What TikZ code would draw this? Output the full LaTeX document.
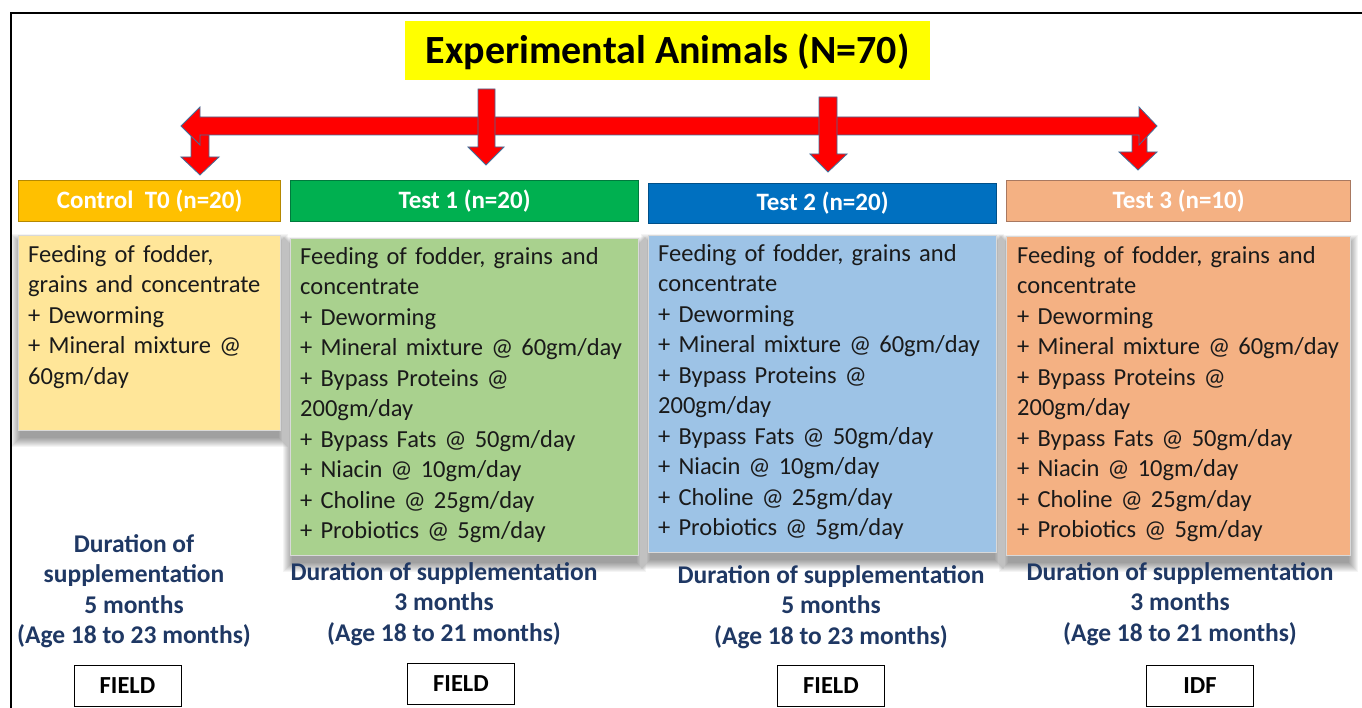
\documentclass[tikz,border=0pt]{standalone}
\usepackage{fontspec}
\setmainfont{Carlito}
\pgfdeclarelayer{bgzero}
\pgfdeclarelayer{background}
\pgfsetlayers{bgzero,background,main}
\definecolor{titley}{HTML}{FFFF00}
\definecolor{arrred}{HTML}{FF0000}
\definecolor{arrline}{HTML}{41719C}
\definecolor{hdrA}{HTML}{FFC000}
\definecolor{hdrAb}{HTML}{B58800}
\definecolor{hdrB}{HTML}{00B050}
\definecolor{hdrBb}{HTML}{007A3D}
\definecolor{hdrC}{HTML}{0070C0}
\definecolor{hdrCb}{HTML}{004F88}
\definecolor{hdrD}{HTML}{F4B183}
\definecolor{hdrDb}{HTML}{A87860}
\definecolor{bodA}{HTML}{FFE699}
\definecolor{bodB}{HTML}{A9D18E}
\definecolor{bodC}{HTML}{9DC3E6}
\definecolor{bodD}{HTML}{F4B183}
\definecolor{navy}{HTML}{1F3864}
\definecolor{txt}{HTML}{1A1A1A}
\begin{document}
\begin{tikzpicture}[x=1pt,y=-1pt,
  hdr/.style={anchor=north west, inner sep=0pt, line width=1.2pt},
  hdrtext/.style={text=white, font=\fontsize{25}{30}\selectfont\bfseries},
  bod/.style={anchor=north west, inner sep=0pt, draw=white!85!black, line width=0.6pt},
  bodtext/.style={anchor=north west, inner sep=0pt, align=left, text=txt, font=\fontsize{24.5}{30.5}\selectfont, text width=345pt},
  dur/.style={align=center, text=navy, font=\fontsize{25.5}{30.5}\selectfont\bfseries},
  place/.style={draw=black, line width=0.9pt, minimum width=107pt, minimum height=41pt, inner sep=0pt, font=\fontsize{24.5}{28}\selectfont\bfseries},
  blockarrow/.style={fill=arrred, draw=arrline, line width=0.8pt, line join=miter},
  shadowlayer/.style={fill=black, fill opacity=0.045, draw=none}
]
\begin{pgfonlayer}{bgzero}
\fill[white] (0,0) rectangle (1362,708);
\end{pgfonlayer}
\useasboundingbox (0,0) rectangle (1362,708);
% frame
\draw[line width=1.2pt] (11,708) -- (11,13) -- (1362,13);

% title
\node[fill=titley, minimum width=525pt, minimum height=59pt, inner sep=0pt, anchor=north west] (title) at (405,21) {};
\node[font=\fontsize{40}{48}\selectfont\bfseries] (titletext) at ([yshift=-1pt]title.center) {Experimental Animals (N=70)};

% down arrows at ends (below horizontal arrow)
\draw[blockarrow] (191,130) -- (191,157) -- (181,157) -- (200,175) -- (219,157) -- (209,157) -- (209,130) -- cycle;
\draw[blockarrow] (1132,130) -- (1132,152) -- (1119,152) -- (1138,170) -- (1157,152) -- (1147,152) -- (1147,130) -- cycle;
% horizontal double arrow
\draw[blockarrow] (181,126) -- (200,107) -- (200,117) -- (1139,117) -- (1139,107) -- (1157,126) -- (1139,145) -- (1139,135) -- (200,135) -- (200,145) -- cycle;
% vertical arrows from title
\draw[blockarrow] (478,89) -- (478,147) -- (468,147) -- (486,165) -- (504,147) -- (495,147) -- (495,89) -- cycle;
\draw[blockarrow] (819,97) -- (819,154) -- (810,154) -- (828,172) -- (847,154) -- (837,154) -- (837,97) -- cycle;

% headers
\node[hdr, fill=hdrA, draw=hdrAb, minimum width=262pt, minimum height=41pt] (h0) at (18,180) {};
\node[hdrtext] at (h0.center) {Control\ \ T0 (n=20)};
\node[hdr, fill=hdrB, draw=hdrBb, minimum width=348pt, minimum height=41pt] (h1) at (290,180) {};
\node[hdrtext] at (h1.center) {Test 1 (n=20)};
\node[hdr, fill=hdrC, draw=hdrCb, minimum width=348pt, minimum height=40pt] (h2) at (648,183) {};
\node[hdrtext] at (h2.center) {Test 2 (n=20)};
\node[hdr, fill=hdrD, draw=hdrDb, minimum width=344pt, minimum height=41pt] (h3) at (1006,180) {};
\node[hdrtext] at (h3.center) {Test 3 (n=10)};

% bodies
\node[bod, fill=bodA, minimum width=262pt, minimum height=195pt] (b0) at (18,235) {};
\node[bodtext] (t0) at (28,245)
 {Feeding of fodder,\\grains and concentrate\\+ Deworming\\+ Mineral mixture @\\60gm/day};

\node[bod, fill=bodB, minimum width=348pt, minimum height=317pt] (b1) at (290,238) {};
\node[bodtext] (t1) at (300,247)
 {Feeding of fodder, grains and\\concentrate\\+ Deworming\\+ Mineral mixture @ 60gm/day\\+ Bypass Proteins @\\200gm/day\\+ Bypass Fats @ 50gm/day\\+ Niacin @ 10gm/day\\+ Choline @ 25gm/day\\+ Probiotics @ 5gm/day};

\node[bod, fill=bodC, minimum width=348pt, minimum height=317pt] (b2) at (648,235) {};
\node[bodtext] (t2) at (658,244)
 {Feeding of fodder, grains and\\concentrate\\+ Deworming\\+ Mineral mixture @ 60gm/day\\+ Bypass Proteins @\\200gm/day\\+ Bypass Fats @ 50gm/day\\+ Niacin @ 10gm/day\\+ Choline @ 25gm/day\\+ Probiotics @ 5gm/day};

\node[bod, fill=bodD, minimum width=344pt, minimum height=319pt] (b3) at (1006,236) {};
\node[bodtext] (t3) at (1017,246)
 {Feeding of fodder, grains and\\concentrate\\+ Deworming\\+ Mineral mixture @ 60gm/day\\+ Bypass Proteins @\\200gm/day\\+ Bypass Fats @ 50gm/day\\+ Niacin @ 10gm/day\\+ Choline @ 25gm/day\\+ Probiotics @ 5gm/day};

% soft shadows behind the bodies
\begin{pgfonlayer}{background}
\foreach \n in {b0,b1,b2,b3}{
  \foreach \r in {0,...,9}{
    \fill[shadowlayer] ([shift={({2-\r},{8-\r})}]\n.north west) rectangle ([shift={({\r-2},{7+\r})}]\n.south east);
  }
}
\end{pgfonlayer}

% durations
\node[dur] (d0) at (134,591) {Duration of\\supplementation\\5 months\\(Age 18 to 23 months)};
\node[dur] (d1) at (444,604) {Duration of supplementation\\3 months\\(Age 18 to 21 months)};
\node[dur] (d2) at (831,607) {Duration of supplementation\\5 months\\(Age 18 to 23 months)};
\node[dur] (d3) at (1180,604) {Duration of supplementation\\3 months\\(Age 18 to 21 months)};

% places
\node[place] (p0) at (127.5,685.5) {FIELD};
\node[place] (p1) at (461,684) {FIELD};
\node[place] (p2) at (831,685.5) {FIELD};
\node[place] (p3) at (1200,685.5) {IDF};
\end{tikzpicture}
\end{document}
